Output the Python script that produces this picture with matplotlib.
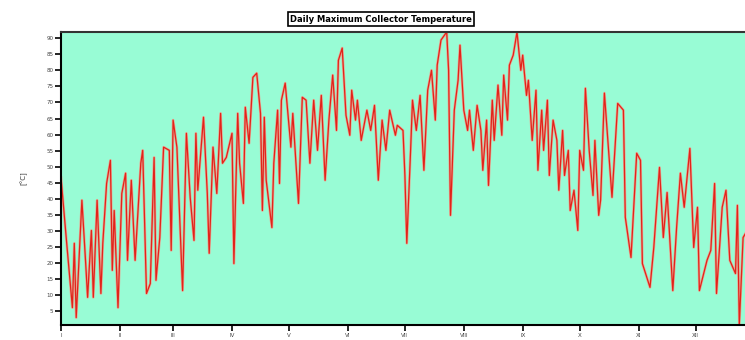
import matplotlib
matplotlib.use("Agg")
import matplotlib.pyplot as plt

# Day of year (turning points) and daily max collector temperature [°C]
days = [1, 4, 7, 8, 9, 12, 14, 15, 17, 18, 20, 22, 23, 25, 27, 28, 29, 31, 33, 35,
        36, 38, 40, 43, 44, 46, 48, 50, 51, 53, 55, 58, 59, 60, 62, 65, 67, 69, 71, 72,
        73, 76, 78, 79, 81, 83, 85, 86, 88, 91, 92, 94, 95, 97, 98, 100, 102, 104, 106, 107,
        108, 109, 112, 113, 115, 116, 117, 119, 122, 123, 126, 128, 130, 132,
        134, 136, 138, 140, 142, 144, 146, 147, 149, 151, 153, 154, 156, 157, 159, 162,
        164, 166, 168, 170, 172, 174, 177, 178, 181, 182, 183, 185, 186, 188, 190, 192,
        194, 196, 198, 199, 201, 204, 205, 206, 208, 210, 211, 213, 215, 216, 218, 220,
        222, 223, 225, 226, 228, 229, 231, 233, 234, 236, 237, 239, 241, 243, 244, 246,
        247, 249, 251, 252, 254, 255, 257, 258, 260, 262, 263, 265, 266, 268, 269, 271,
        273, 274, 276, 277, 279, 281, 282, 284, 285,
        287, 291, 294, 297, 298, 301, 304, 306, 307, 311, 313, 316, 318, 320, 323, 325,
        327, 329, 332, 334, 336, 337, 341, 343, 345, 346, 349, 351, 353, 356, 357, 358,
        360, 365]

temps = [46.7, 26.2, 6.2, 26.2, 3.1, 39.6, 19.9, 9.4, 30.2, 9.4, 39.6, 10.6, 26.2, 44.8, 52.0, 17.8, 36.4, 6.2, 41.7, 48.0,
         20.9, 45.8, 20.9, 51.1, 55.1, 10.6, 13.7, 52.9, 14.7, 28.0, 56.1, 55.1, 24.0, 64.5, 56.1, 11.5, 60.4, 40.5, 27.1, 60.4,
         42.7, 65.4, 41.7, 23.1, 56.1, 41.7, 66.6, 51.1, 52.9, 60.4, 19.9, 66.6, 51.1, 38.6, 68.5, 57.3, 77.8, 79.1, 66.6, 36.4,
         65.4, 45.8, 31.1, 51.1, 67.6, 44.8, 70.7, 76.0, 56.1, 66.6, 38.6, 71.6, 70.7, 51.1,
         70.7, 55.1, 72.2, 45.8, 64.5, 78.5, 61.3, 83.1, 86.9, 66.0, 59.8, 73.8, 64.5, 70.7, 58.2, 67.6,
         61.3, 69.1, 45.8, 64.5, 55.1, 67.6, 59.8, 62.9, 61.3, 47.3, 26.2, 55.1, 70.7, 61.3, 72.2, 48.9,
         73.8, 80.0, 64.5, 81.6, 89.4, 91.9, 80.0, 34.9, 67.6, 76.9, 87.8, 67.6, 61.3, 67.6, 55.1, 69.1,
         61.3, 48.9, 64.5, 44.2, 70.7, 58.2, 75.4, 59.8, 78.5, 64.5, 81.6, 84.7, 91.9, 80.0, 84.7, 72.2,
         76.9, 58.2, 73.8, 48.9, 67.6, 55.1, 70.7, 47.3, 64.5, 58.2, 42.7, 61.3, 47.3, 55.1, 36.4, 42.7,
         30.2, 55.1, 48.9, 74.4, 55.1, 41.1, 58.2, 34.9, 39.6,
         72.9, 40.5, 69.7, 67.6, 34.3, 21.8, 54.2, 52.0, 19.9, 12.5, 24.9, 49.8, 28.0, 42.0, 11.5, 31.1,
         48.0, 37.4, 55.7, 24.9, 37.4, 11.5, 20.9, 24.0, 44.8, 10.6, 37.4, 42.7, 20.9, 16.8, 38.0, 0.8,
         28.0, 33.0]

month_starts = [1, 32, 60, 91, 121, 152, 182, 213, 244, 274, 305, 335]
month_labels = ["I", "II", "III", "IV", "V", "VI", "VII", "VIII", "IX", "X", "XI", "XII"]
y_ticks = list(range(5, 91, 5))

fig = plt.figure(figsize=(7.45, 3.4), dpi=100)
ax = fig.add_axes([61 / 745, 1 - 325 / 340, (752.6 - 61) / 745, (325 - 32) / 340])
ax.set_facecolor("#98FCD5")
ax.plot(days, temps, color="#f29a88", lw=1.9, alpha=0.85, solid_joinstyle="round")
ax.plot(days, temps, color="#e2231a", lw=0.9, solid_joinstyle="round")

ax.set_xlim(1, 365)
ax.set_ylim(min(temps), max(temps))
ax.set_xticks(month_starts)
ax.set_xticklabels(month_labels, fontsize=4, color="#444444")
ax.set_yticks(y_ticks)
ax.set_yticklabels([str(v) for v in y_ticks], fontsize=4, color="#444444")
ax.tick_params(axis="both", direction="out", length=4, width=1.2, pad=1.5)
for s in ["left", "bottom", "top"]:
    ax.spines[s].set_linewidth(1.5)
    ax.spines[s].set_color("black")
ax.spines["top"].set_color("#333333")
ax.set_ylabel("[°C]", fontsize=5, labelpad=14, color="#333333")

fig.text(381 / 745, 1 - 19 / 340, "Daily Maximum Collector Temperature",
         ha="center", va="center", fontsize=6, fontweight="bold",
         bbox=dict(facecolor="white", edgecolor="black", linewidth=1.2, boxstyle="square,pad=0.3"))

fig.savefig("out.png", dpi=100)
